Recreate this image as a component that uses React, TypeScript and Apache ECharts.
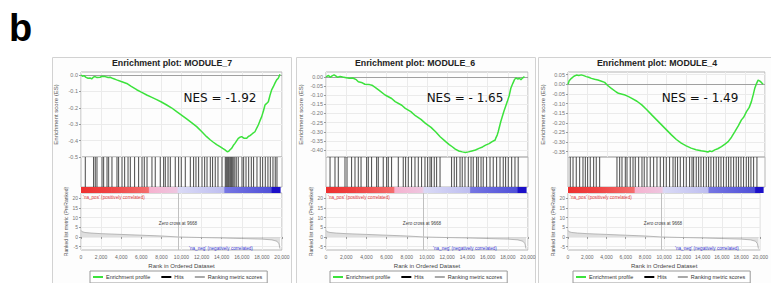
import React, { useEffect, useRef } from 'react';
import * as echarts from 'echarts';

// ---------- data ----------
const titles = ['Enrichment plot: MODULE_7', 'Enrichment plot: MODULE_6', 'Enrichment plot: MODULE_4'];
const nesLabels = ['NES = -1.92', 'NES = - 1.65', 'NES = - 1.49'];
const legendNames = ['Enrichment profile', 'Hits', 'Ranking metric scores'];
const xTicks = [0, 2000, 4000, 6000, 8000, 10000, 12000, 14000, 16000, 18000, 20000];
const zeroCross = 9668;

const esTicks7 = [0, -0.1, -0.2, -0.3, -0.4, -0.5];
const esTicks6 = [0, -0.05, -0.1, -0.15, -0.2, -0.25, -0.3, -0.35, -0.4];
const esTicks4 = [0.05, 0, -0.05, -0.1, -0.15, -0.2, -0.25, -0.3, -0.35];
const metricTicks = [20, 15, 10, 5, 0, -5];

const es7: [number, number][] = [
  [0, 0], [150, -0.008], [300, -0.004], [500, -0.015], [700, -0.02], [900, -0.018], [1060, -0.024],
  [1250, -0.012], [1400, -0.01], [1600, -0.016], [1900, -0.014], [2100, -0.008], [2400, -0.01],
  [2700, -0.016], [2900, -0.014], [3200, -0.022], [3550, -0.03], [4000, -0.04], [4550, -0.052],
  [5000, -0.07], [5540, -0.09], [6000, -0.105], [6540, -0.122], [7000, -0.135], [7530, -0.15],
  [8000, -0.165], [8530, -0.183], [9000, -0.2], [9520, -0.224], [10000, -0.245], [10510, -0.268],
  [11000, -0.29], [11510, -0.315], [12000, -0.345], [12500, -0.376], [12850, -0.395], [13170, -0.41],
  [13500, -0.425], [13830, -0.437], [14100, -0.448], [14330, -0.457], [14550, -0.468], [14700, -0.465],
  [14850, -0.455], [14990, -0.447], [15150, -0.43], [15320, -0.417], [15500, -0.4], [15650, -0.386],
  [15800, -0.38], [15990, -0.376], [16200, -0.385], [16490, -0.386], [16650, -0.375], [16820, -0.37],
  [17050, -0.358], [17310, -0.346], [17500, -0.322], [17640, -0.305], [17800, -0.28], [17980, -0.254],
  [18150, -0.22], [18310, -0.183], [18450, -0.175], [18640, -0.163], [18800, -0.125], [18970, -0.091],
  [19150, -0.07], [19300, -0.05], [19470, -0.03], [19630, -0.02], [19800, 0.004],
];

const es6: [number, number][] = [
  [0, 0], [250, 0.008], [420, -0.002], [600, 0.006], [800, 0.011], [1000, 0.004], [1150, -0.002],
  [1400, 0.003], [1650, 0], [2000, -0.004], [2300, -0.007], [2650, -0.006], [3000, -0.015],
  [3200, -0.026], [3600, -0.032], [3850, -0.04], [4300, -0.042], [4550, -0.045], [4900, -0.058],
  [5200, -0.071], [5850, -0.099], [6500, -0.118], [6850, -0.135], [7500, -0.155], [7850, -0.172],
  [8400, -0.19], [8850, -0.212], [9400, -0.232], [9850, -0.254], [10400, -0.276], [10850, -0.3],
  [11300, -0.327], [11850, -0.354], [12200, -0.37], [12500, -0.382], [12800, -0.395], [13150, -0.405],
  [13500, -0.41], [13800, -0.413], [14100, -0.41], [14450, -0.405], [14800, -0.4], [15150, -0.391],
  [15500, -0.383], [15800, -0.373], [16150, -0.365], [16450, -0.354], [16750, -0.345], [16800, -0.336],
  [16950, -0.318], [17050, -0.3], [17300, -0.245], [17600, -0.19], [17950, -0.135], [18150, -0.1],
  [18300, -0.062], [18500, -0.035], [18650, -0.016], [18800, -0.005], [19000, -0.012], [19150, -0.007],
  [19300, -0.016], [19450, -0.006], [19650, 0.002],
];

const es4: [number, number][] = [
  [0, 0], [120, 0.018], [350, 0.031], [600, 0.042], [860, 0.048], [1100, 0.046], [1350, 0.049],
  [1600, 0.045], [1860, 0.04], [2100, 0.037], [2370, 0.031], [2700, 0.026], [3040, 0.022], [3400, 0.016],
  [3720, 0.01], [4000, -0.005], [4400, -0.021], [4900, -0.04], [5120, -0.047], [5500, -0.052],
  [5800, -0.056], [6150, -0.064], [6480, -0.073], [7000, -0.088], [7490, -0.107], [8000, -0.132],
  [8500, -0.159], [9000, -0.185], [9500, -0.211], [10000, -0.237], [10500, -0.263], [11000, -0.287],
  [11500, -0.306], [12000, -0.32], [12500, -0.332], [13000, -0.34], [13520, -0.346], [14000, -0.349],
  [14200, -0.352], [14400, -0.347], [14600, -0.35], [14900, -0.341], [15200, -0.335], [15580, -0.324],
  [15900, -0.312], [16260, -0.298], [16600, -0.275], [16940, -0.246], [17300, -0.215], [17610, -0.185],
  [17850, -0.17], [18120, -0.142], [18400, -0.12], [18620, -0.09], [18800, -0.055], [18960, -0.021],
  [19150, 0.005], [19300, 0.022], [19450, 0.018], [19630, 0.01], [19800, 0],
];

const hits7 = [
  400, 1220, 1390, 1560, 2060, 2220, 2560, 2720, 3050, 3550, 3710, 4050, 4310, 4650, 4880, 5300, 5700,
  6040, 6270, 6540, 7030, 7360, 7860, 8190, 8360, 8630, 8860, 9350, 9680, 9950, 10350, 10850, 11170,
  11410, 11670, 12010, 12270, 12510, 12840, 13060, 13330, 13600, 14000, 14330, 14430, 14530, 14630,
  14720, 14830, 14930, 15020, 15120, 15270, 15420, 15620, 15990, 16150, 16390, 16650, 16920, 17140,
  17480, 17810, 18040, 18310, 18570, 18810, 19070, 19300, 19470,
];
const hits6 = [
  370, 860, 1190, 1850, 2050, 2500, 2840, 3170, 3440, 3990, 4160, 4480, 4980, 5150, 5640, 5970, 6140,
  6460, 7130, 7620, 7850, 8120, 8440, 8780, 9110, 9430, 9770, 10030, 10270, 10420, 10690, 10920, 11260,
  12400, 12670, 12900, 13240, 13460, 13730, 14060, 14330, 14550, 14880, 15050, 15320, 15540, 15870,
  16210, 16530, 16860, 17200, 17520, 17750, 18020, 18350, 18680, 19000,
];
const hits4 = [
  200, 480, 810, 1150, 1490, 1730, 1960, 2230, 2570, 2840, 3180, 4940, 5210, 5450, 5790, 5960, 6290,
  6570, 6800, 7140, 7480, 7710, 7990, 8320, 8660, 9000, 9340, 9670, 9950, 10280, 10630, 10860, 11090,
  11370, 11700, 11980, 12310, 12560, 12720, 12990, 13230, 13470, 13730, 14010, 14240, 14480, 14750,
  15020, 15260, 15500, 15760, 16040, 16270, 16510, 16780, 17050, 17280, 17530, 17790, 18070, 18300,
  18540, 18810, 19150,
];

const metric: [number, number][] = [
  [0, 3.4], [100, 2.7], [400, 2.3], [1000, 2.0], [2000, 1.7], [4000, 1.3], [6000, 0.9], [8000, 0.5],
  [9668, 0], [12000, -0.3], [14000, -0.5], [16000, -0.8], [18000, -1.1], [19000, -1.5], [19500, -2.2],
  [19700, -3.5], [19800, -6.0],
];

const colorStops: [number, string][] = [
  [0, '#ee3030'], [3000, '#f04444'], [6700, '#f46e6e'], [6800, '#f6b2cf'], [9500, '#eec6e0'],
  [9700, '#dadaf6'], [14200, '#bebef0'], [14300, '#7676e2'], [18900, '#5050d8'], [19000, '#1c10c8'],
  [19800, '#1c10c8'],
];

// ---------- layout ----------
const panels = [
  { es: es7, hits: hits7, ticks: esTicks7, dec: 1, min: -0.5, max: 0.018, left: 81, width: 201,
    frame: [52, 57, 239, 240], titleX: 172, nesX: 220, naPosX: 83, zeroX: 178, naNegX: 221, legendX: 90 },
  { es: es6, hits: hits6, ticks: esTicks6, dec: 2, min: -0.438, max: 0.027, left: 326, width: 202,
    frame: [296, 57, 239, 240], titleX: 415, nesX: 465, naPosX: 328, zeroX: 422, naNegX: 465, legendX: 330 },
  { es: es4, hits: hits4, ticks: esTicks4, dec: 2, min: -0.378, max: 0.064, left: 568, width: 197,
    frame: [538, 57, 235, 240], titleX: 657, nesX: 700, naPosX: 570, zeroX: 663, naNegX: 707, legendX: 573 },
];

const FONT = '"Liberation Sans", Arial, sans-serif';
const GRID_LINE = '#ebebeb';
const fmtComma = (v: number) => String(v).replace(/\B(?=(\d{3})+(?!\d))/g, ',');

function buildOption() {
  const grid: any[] = [];
  const xAxis: any[] = [];
  const yAxis: any[] = [];
  const series: any[] = [];
  const graphic: any[] = [];
  const legend: any[] = [];

  graphic.push({
    type: 'text', x: 9, y: 9, z: 10,
    style: { text: 'b', font: `bold 38px ${FONT}`, fill: '#000', textVerticalAlign: 'top' },
  });

  panels.forEach((p, k) => {
    const base = k * 4;
    const rows = [
      { top: 72, height: 85, border: true },
      { top: 157, height: 30, border: true },
      { top: 187, height: 6, border: false },
      { top: 193, height: 57, border: true },
    ];
    rows.forEach((r) => {
      grid.push({
        left: p.left, width: p.width, top: r.top, height: r.height,
        show: r.border, borderColor: '#b5b5b5', borderWidth: 1, backgroundColor: 'transparent',
        containLabel: false,
      });
    });
    for (let j = 0; j < 4; j++) {
      const isMetric = j === 3;
      xAxis.push({
        type: 'value', gridIndex: base + j, min: xTicks[0], max: xTicks[xTicks.length - 1], interval: 2000,
        axisLine: { show: false },
        axisTick: { show: isMetric, length: 2, lineStyle: { color: '#999' } },
        axisLabel: {
          show: isMetric, fontSize: 5, color: '#666', margin: 4, fontFamily: FONT,
          formatter: (v: number) => fmtComma(v),
        },
        splitLine: { show: j === 0 || j === 3, lineStyle: { color: GRID_LINE, width: 1 } },
        name: isMetric ? 'Rank in Ordered Dataset' : '',
        nameLocation: 'middle', nameGap: 13,
        nameTextStyle: { fontSize: 6, color: '#444', fontFamily: FONT },
      });
    }
    yAxis.push({
      type: 'value', gridIndex: base, min: p.min, max: p.max,
      axisLine: { show: false },
      axisTick: { show: true, length: 2, customValues: p.ticks, lineStyle: { color: '#999' } },
      axisLabel: {
        customValues: p.ticks, fontSize: 5.5, color: '#777', margin: 3, fontFamily: FONT,
        formatter: (v: number) => v.toFixed(p.dec),
      },
      splitLine: { show: true, lineStyle: { color: GRID_LINE } },
      name: 'Enrichment score (ES)', nameLocation: 'middle', nameGap: 22,
      nameTextStyle: { fontSize: 6, color: '#555', fontFamily: FONT },
    });
    yAxis.push({ type: 'value', gridIndex: base + 1, min: 0, max: 1, show: false, splitLine: { show: false } });
    yAxis.push({ type: 'value', gridIndex: base + 2, min: 0, max: 1, show: false, splitLine: { show: false } });
    yAxis.push({
      type: 'value', gridIndex: base + 3, min: -6.7, max: 22.6,
      axisLine: { show: false },
      axisTick: { show: true, length: 2, customValues: metricTicks, lineStyle: { color: '#999' } },
      axisLabel: { customValues: metricTicks, fontSize: 5, color: '#777', margin: 3, fontFamily: FONT },
      splitLine: { show: true, lineStyle: { color: GRID_LINE } },
      name: 'Ranked list metric (PreRanked)', nameLocation: 'middle', nameGap: 12,
      nameTextStyle: { fontSize: 5, color: '#555', fontFamily: FONT },
    });

    series.push({
      type: 'line', name: 'Enrichment profile', xAxisIndex: base, yAxisIndex: base,
      data: p.es, symbol: 'none', silent: true,
      lineStyle: { color: '#3ce23c', width: 1.5 }, itemStyle: { color: '#3ce23c' },
      markLine: {
        silent: true, symbol: 'none', label: { show: false },
        lineStyle: { color: '#a0a0a0', type: 'solid', width: 1 },
        data: [{ yAxis: 0 }],
      },
      z: 5,
    });
    series.push({
      type: 'custom', name: 'Hits', xAxisIndex: base + 1, yAxisIndex: base + 1,
      data: p.hits.map((h) => [h, 0]), encode: { x: 0, y: 1 }, silent: true,
      itemStyle: { color: '#000' },
      renderItem: (_params: any, api: any) => {
        const a = api.coord([api.value(0), 1]);
        const b = api.coord([api.value(0), 0]);
        return {
          type: 'line',
          shape: { x1: a[0] + 0.3, y1: a[1], x2: b[0] + 0.3, y2: b[1] },
          style: { stroke: '#2a2a2a', lineWidth: 1.1, opacity: 0.78 },
        };
      },
    });
    series.push({
      type: 'custom', name: 'colorbar', xAxisIndex: base + 2, yAxisIndex: base + 2,
      data: colorStops.slice(0, -1).map((s, i) => [s[0], colorStops[i + 1][0], i]),
      encode: { x: [0, 1] }, silent: true,
      renderItem: (_params: any, api: any) => {
        const i = api.value(2);
        const a = api.coord([api.value(0), 1]);
        const b = api.coord([api.value(1), 0]);
        return {
          type: 'rect',
          shape: { x: a[0], y: a[1], width: b[0] - a[0] + 0.6, height: b[1] - a[1] },
          style: {
            fill: new echarts.graphic.LinearGradient(0, 0, 1, 0, [
              { offset: 0, color: colorStops[i][1] },
              { offset: 1, color: colorStops[i + 1][1] },
            ]),
          },
        };
      },
    });
    series.push({
      type: 'line', name: 'Ranking metric scores', xAxisIndex: base + 3, yAxisIndex: base + 3,
      data: metric, symbol: 'none', silent: true,
      lineStyle: { color: '#a8a8a8', width: 0.8 }, itemStyle: { color: '#a8a8a8' },
      areaStyle: { color: '#d2d2d2', origin: 0 },
      markLine: {
        silent: true, symbol: 'none', label: { show: false },
        lineStyle: { color: '#c0c0c0', type: 'solid', width: 1 },
        data: [{ xAxis: zeroCross }],
      },
    });

    graphic.push({
      type: 'rect', z: -10,
      shape: { x: p.frame[0] + 0.5, y: p.frame[1] + 0.5, width: p.frame[2], height: p.frame[3] },
      style: { fill: '#fdfdfd', stroke: '#d2d2d2', lineWidth: 1 },
    });
    graphic.push({
      type: 'text', x: p.titleX, y: 63, z: 10,
      style: { text: titles[k], font: `bold 8.8px ${FONT}`, fill: '#222', textAlign: 'center', textVerticalAlign: 'middle' },
    });
    graphic.push({
      type: 'text', x: p.nesX, y: 98, z: 10,
      style: { text: nesLabels[k], font: '12px "DejaVu Sans", sans-serif', fill: '#111', textAlign: 'center', textVerticalAlign: 'middle' },
    });
    graphic.push({
      type: 'text', x: p.naPosX, y: 197.5, z: 10,
      style: { text: "'na_pos' (positively correlated)", font: `4.6px ${FONT}`, fill: '#e03a3a', textAlign: 'left', textVerticalAlign: 'middle' },
    });
    graphic.push({
      type: 'text', x: p.zeroX, y: 223, z: 10,
      style: { text: `Zero cross at ${zeroCross}`, font: `4.6px ${FONT}`, fill: '#444', textAlign: 'center', textVerticalAlign: 'middle' },
    });
    graphic.push({
      type: 'text', x: p.naNegX, y: 248, z: 10,
      style: { text: "'na_neg' (negatively correlated)", font: `4.6px ${FONT}`, fill: '#3a3ad4', textAlign: 'center', textVerticalAlign: 'middle' },
    });

    legend.push({
      left: p.legendX, top: 271, data: legendNames, icon: 'rect', itemWidth: 10, itemHeight: 2,
      itemGap: 11, padding: [3, 5, 3, 3], borderColor: '#999', borderWidth: 1, backgroundColor: '#fff',
      selectedMode: false, textStyle: { fontSize: 5.5, color: '#333', fontFamily: FONT, padding: [0, 0, 0, -2] },
    });
  });

  return {
    animation: false,
    backgroundColor: '#fff',
    textStyle: { fontFamily: FONT },
    grid, xAxis, yAxis, series, graphic, legend,
  };
}

export default function App() {
  const ref = useRef<HTMLDivElement>(null);
  useEffect(() => {
    if (!ref.current) return;
    const chart = echarts.init(ref.current, undefined, { renderer: 'svg' });
    chart.setOption(buildOption() as any);
    return () => chart.dispose();
  }, []);
  return (
    <div
      ref={ref}
      style={{ position: 'absolute', left: 0, top: 0, width: 771, height: 283, background: '#fff' }}
    />
  );
}
